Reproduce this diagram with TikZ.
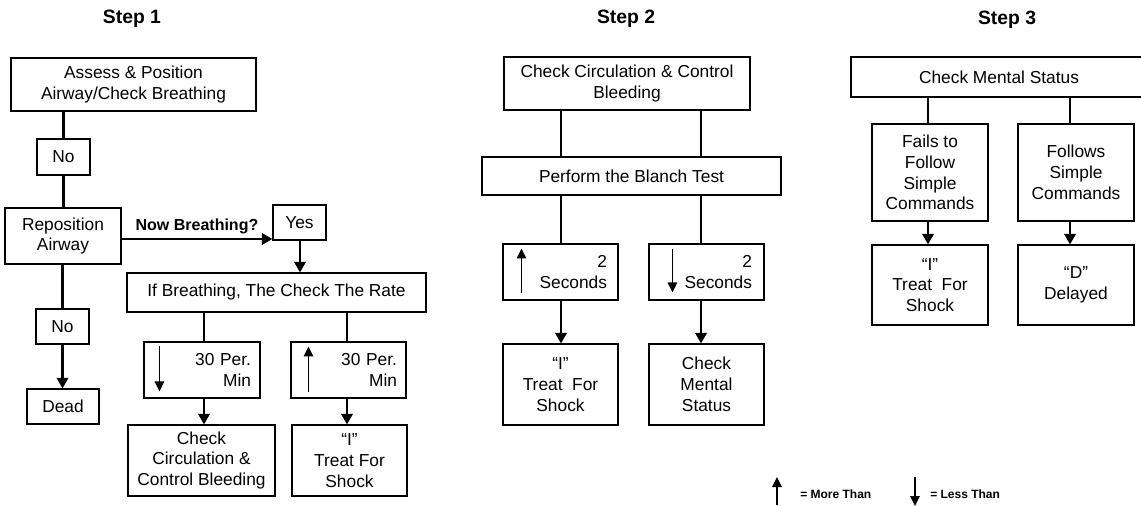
\documentclass[tikz,border=0pt]{standalone}
\usepackage{fontspec}
\setmainfont{Liberation Sans}
\usetikzlibrary{arrows.meta,calc}
\newdimen\pxu \pxu=0.75pt
\newcommand{\bodyfont}{\fontsize{13}{15.6}\selectfont}
\begin{document}
\begin{tikzpicture}[x=0.75pt,y=-0.75pt,
  bx/.style={draw, line width=0.8pt, inner sep=0pt, align=center, font=\bodyfont},
  title/.style={font=\fontsize{14.5}{17}\selectfont\bfseries, inner sep=0pt},
  lbl/.style={font=\fontsize{12}{14}\selectfont\bfseries, inner sep=3pt},
  leg/.style={font=\fontsize{9}{10}\selectfont\bfseries, inner sep=0pt},
  conn/.style={line width=2.2pt},
  arr/.style={conn, -{Triangle[length=8pt,width=8.5pt]}},
  iarr/.style={line width=1.2pt, -{Triangle[length=7.5pt,width=7pt]}}]
\useasboundingbox (0,0) rectangle (1141,506);

% ---------- Step 1 ----------
\node[title] (t1) at (132,19) {Step 1};
\node[bx, minimum width=245\pxu, minimum height=53\pxu] (a1) at (133.5,84.5) {Assess \& Position\\Airway/Check Breathing};
\node[bx, minimum width=53\pxu, minimum height=36\pxu] (no1) at (63.5,157) {No};
\node[bx, minimum width=116\pxu, minimum height=56\pxu] (rep) at (63,236) {Reposition\\Airway};
\node[bx, minimum width=53\pxu, minimum height=35\pxu] (yes) at (299.5,222.5) {Yes};
\node[bx, minimum width=299\pxu, minimum height=39\pxu] (ifb) at (276.5,292.5) {If Breathing, The Check The Rate};
\node[bx, minimum width=53\pxu, minimum height=35\pxu] (no2) at (62.5,326.5) {No};
\node[bx, minimum width=72\pxu, minimum height=35\pxu] (dead) at (63,406.5) {Dead};
\node[bx, minimum height=56\pxu, text width=98\pxu, align=right, inner xsep=9\pxu] (lt30) at (202,370) {30 Per.\\Min};
\node[bx, minimum height=56\pxu, text width=97\pxu, align=right, inner xsep=9\pxu] (gt30) at (348.5,370) {30 Per.\\Min};
\node[bx, minimum width=147\pxu, minimum height=71\pxu] (ccb1) at (201.5,460.5) {Check\\Circulation \&\\Control Bleeding};
\node[bx, minimum width=115\pxu, minimum height=71\pxu] (ish1) at (349.5,460.5) {\textquotedblleft I\textquotedblright\\Treat For\\Shock};

\draw[conn] (no1.north |- a1.south) -- (no1.north);
\draw[conn] (no1.south) -- (no1.south |- rep.north);
\draw[conn] (no2.north |- rep.south) -- (no2.north);
\draw[arr] (no2.south) -- (no2.south |- dead.north);
\draw[arr] (rep.east |- 0,239) -- node[above, lbl] (nb) {Now Breathing?} (yes.west |- 0,239);
\draw[arr] (300,0 |- yes.south) -- (300,0 |- ifb.north);
\draw[conn] (204,0 |- ifb.south) -- (204,0 |- lt30.north);
\draw[conn] (347,0 |- ifb.south) -- (347,0 |- gt30.north);
\draw[arr] (204,0 |- lt30.south) -- (204,0 |- ccb1.north);
\draw[arr] (347,0 |- gt30.south) -- (347,0 |- ish1.north);
\draw[iarr] ($(lt30.north west)+(16,5)$) -- ($(lt30.north west)+(16,50)$);
\draw[iarr] ($(gt30.north west)+(18,51)$) -- ($(gt30.north west)+(18,5)$);

% ---------- Step 2 ----------
\node[title] (t2) at (626,19) {Step 2};
\node[bx, minimum width=246\pxu, minimum height=53\pxu] (c2) at (627,83.5) {Check Circulation \& Control\\Bleeding};
\node[bx, minimum width=299\pxu, minimum height=38\pxu] (blanch) at (631.5,176) {Perform the Blanch Test};
\node[bx, minimum height=56\pxu, text width=93\pxu, align=right, inner xsep=11\pxu] (s2a) at (560.5,272) {2\\Seconds};
\node[bx, minimum height=56\pxu, text width=91\pxu, align=right, inner xsep=12\pxu] (s2b) at (706.5,272) {2\\Seconds};
\node[bx, minimum width=115\pxu, minimum height=81\pxu] (ish2) at (560.5,384.5) {\textquotedblleft I\textquotedblright\\Treat\ \ For\\Shock};
\node[bx, minimum width=115\pxu, minimum height=81\pxu] (cms2) at (706.5,384.5) {Check\\Mental\\Status};

\draw[conn] (561,0 |- c2.south) -- (561,0 |- blanch.north);
\draw[conn] (701,0 |- c2.south) -- (701,0 |- blanch.north);
\draw[conn] (561,0 |- blanch.south) -- (561,0 |- s2a.north);
\draw[conn] (701,0 |- blanch.south) -- (701,0 |- s2b.north);
\draw[arr] (561,0 |- s2a.south) -- (561,0 |- ish2.north);
\draw[arr] (701,0 |- s2b.south) -- (701,0 |- cms2.north);
\draw[iarr] ($(s2a.north west)+(19,50)$) -- ($(s2a.north west)+(19,5)$);
\draw[iarr] ($(s2b.north west)+(24,6)$) -- ($(s2b.north west)+(24,49)$);

% ---------- Step 3 ----------
\node[title] (t3) at (1007,20) {Step 3};
\node[bx, minimum width=296\pxu, minimum height=40\pxu] (cms3) at (999,77) {Check Mental Status};
\node[bx, minimum width=116\pxu, minimum height=97\pxu] (fail) at (930,172.5) {Fails to\\Follow\\Simple\\Commands};
\node[bx, minimum width=116\pxu, minimum height=97\pxu] (fol) at (1076,172.5) {Follows\\Simple\\Commands};
\node[bx, minimum width=116\pxu, minimum height=80\pxu] (ish3) at (930,285) {\textquotedblleft I\textquotedblright\\Treat\ \ For\\Shock};
\node[bx, minimum width=116\pxu, minimum height=80\pxu] (del) at (1076,285) {\textquotedblleft D\textquotedblright\\Delayed};

\draw[conn] (928,0 |- cms3.south) -- (928,0 |- fail.north);
\draw[conn] (1070,0 |- cms3.south) -- (1070,0 |- fol.north);
\draw[arr] (928,0 |- fail.south) -- (928,0 |- ish3.north);
\draw[arr] (1070,0 |- fol.south) -- (1070,0 |- del.north);

% ---------- Legend ----------
\coordinate (lu1) at (777,505);
\coordinate (lu2) at (777,477);
\coordinate (ld1) at (915,477);
\coordinate (ld2) at (915,506);
\draw[iarr] (lu1) -- (lu2);
\draw[iarr] (ld1) -- (ld2);
\node[leg, anchor=west] (lm) at (800,494) {= More Than};
\node[leg, anchor=west] (ll) at (930,494) {= Less Than};
\end{tikzpicture}
\end{document}
